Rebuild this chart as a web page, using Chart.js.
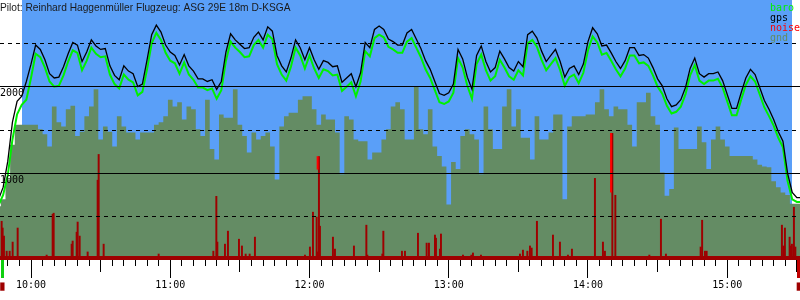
<!DOCTYPE html>
<html><head><meta charset="utf-8">
<script src="https://cdn.jsdelivr.net/npm/chart.js@4.4.1/dist/chart.umd.min.js"></script>
<style>html,body{margin:0;padding:0;background:#fff;}canvas{display:block;}</style>
</head><body>
<canvas id="c" width="800" height="300"></canvas>
<script>
// ---------- DATA ----------
const titleText = 'Pilot: Reinhard Haggenmüller Flugzeug: ASG 29E 18m D-KSGA';
const legendLabels = ['baro', 'gps', 'noise', 'gnd'];

// sample times, minutes after midnight
const times = [
586,588,590,592,594,596,598,600,602,604,
606,608,610,612,614,616,618,620,622,624,
626,628,630,632,634,636,638,640,642,644,
646,648,650,652,654,656,658,660,662,664,
666,668,670,672,674,676,678,680,682,684,
686,688,690,692,694,696,698,700,702,704,
706,708,710,712,714,716,718,720,722,724,
726,728,730,732,734,736,738,740,742,744,
746,748,750,752,754,756,758,760,762,764,
766,768,770,772,774,776,778,780,782,784,
786,788,790,792,794,796,798,800,802,804,
806,808,810,812,814,816,818,820,822,824,
826,828,830,832,834,836,838,840,842,844,
846,848,850,852,854,856,858,860,862,864,
866,868,870,872,874,876,878,880,882,884,
886,888,890,892,894,896,898,900,902,904,
906,908,910,912,914,916,918,920,922,924,
926,928,930,932];

const gps = [
700,840,1140,1590,1830,1890,2060,2260,2480,2430,
2310,2150,2100,2110,2230,2380,2510,2480,2290,2400,
2540,2470,2430,2440,2240,2130,2080,2240,2180,2150,
2000,2030,2310,2600,2710,2630,2480,2400,2360,2250,
2370,2240,2180,2090,2090,2060,2080,1970,2060,2400,
2610,2540,2490,2440,2450,2570,2630,2540,2690,2640,
2360,2240,2170,2330,2540,2450,2310,2450,2310,2200,
2300,2280,2230,2240,2050,2100,2150,2000,2160,2510,
2450,2660,2700,2660,2550,2520,2480,2480,2620,2660,
2550,2440,2300,2200,2060,1920,1900,1930,2030,2430,
2320,2110,1970,2360,2470,2290,2170,2220,2410,2320,
2220,2180,2290,2230,2600,2640,2560,2410,2290,2360,
2430,2290,2110,2210,2240,2140,2260,2520,2680,2610,
2470,2480,2390,2290,2210,2300,2450,2450,2360,2370,
2330,2220,2090,2010,1860,1770,1790,1850,1990,2210,
2330,2150,2110,2150,2150,2170,2070,1910,1750,1750,
1930,2100,2200,2140,1990,1840,1740,1620,1480,1370,
1000,780,720,720];

const baro = [
630,750,980,1390,1680,1790,1850,2100,2380,2340,
2220,2060,2000,2010,2130,2290,2420,2390,2190,2300,
2450,2380,2340,2350,2140,2030,1980,2140,2080,2050,
1900,1940,2200,2500,2620,2540,2390,2300,2270,2150,
2280,2140,2080,1990,1990,1960,1980,1860,1960,2300,
2520,2450,2400,2340,2350,2480,2540,2450,2600,2550,
2260,2140,2070,2230,2450,2360,2210,2360,2210,2100,
2200,2180,2130,2140,1950,2000,2050,1890,2060,2410,
2350,2560,2600,2570,2460,2430,2390,2390,2520,2560,
2450,2340,2200,2100,1960,1820,1800,1830,1930,2330,
2220,2010,1860,2260,2370,2190,2070,2120,2310,2220,
2120,2080,2190,2130,2500,2540,2460,2310,2190,2260,
2330,2190,2010,2110,2140,2040,2160,2420,2580,2510,
2370,2390,2300,2200,2120,2210,2360,2360,2270,2280,
2240,2130,2000,1920,1780,1690,1710,1770,1910,2130,
2250,2070,2030,2070,2070,2090,1990,1830,1670,1670,
1850,2020,2120,2060,1910,1760,1660,1550,1410,1300,
910,700,670,670];

const gnd = [
620,700,930,1330,1560,1560,1560,1560,1560,1510,
1450,1310,1770,1590,1540,1740,1780,1430,1480,1660,
1770,1970,1390,1540,1480,1310,1660,1540,1470,1470,
1390,1470,1470,1470,1560,1590,1660,1850,1770,1820,
1620,1770,1740,1510,1430,1850,1280,1160,1680,1640,
1640,1970,1560,1430,1240,1470,1390,1430,1470,1310,
930,1540,1660,1700,1700,1850,1890,1890,1740,1560,
1680,1620,1620,1470,990,1660,1620,1390,1370,1370,
1160,1240,1240,1390,1510,1770,1820,1740,1390,1390,
2000,1510,1450,1740,1310,1200,1080,640,1130,1050,
1430,1510,1450,1390,990,1770,1510,1280,1280,1770,
1970,1540,1740,1410,1410,1160,1660,1390,1390,1470,
1680,1680,700,1540,1660,1660,1660,1680,1680,1820,
1970,1740,1660,1770,1740,1740,1560,1310,1820,1820,
1930,1660,1560,1010,740,820,1530,1280,1280,1280,
1280,1540,1360,1050,1390,1540,1390,1310,1200,1200,
1200,1200,1200,1160,1100,1080,1070,910,840,780,
750,650,650,650];

// noise spikes (time in minutes, relative level 0..100)
const noiseTimes = [
587.07,587.5,588.06,589.23,590.52,591.81,593.97,606.46,609.05,609.48,
617.24,617.67,619.39,619.82,620.68,624.13,628.44,628.87,631.02,654.72,
678.29,679.58,680.01,683.29,684.58,689.32,690.61,692.21,693.93,696.21,
717.76,719.91,721.21,722.80,723.36,723.79,724.22,729.82,730.69,738.87,
744.22,744.65,751.11,751.54,759.56,760.85,766.45,770.20,771.19,773.78,
774.21,775.93,776.36,785.84,789.46,790.15,793.60,810.40,811.69,813.59,
814.71,815.44,817.72,824.62,827.63,831.08,832.80,842.71,846.16,847.02,
850.21,851.50,866.15,871.15,873.30,888.26,888.90,890.11,890.84,923.28,
924.01,924.57,926.60,927.03,927.59,928.45,929.06];
const noiseValues = [
14.9,12.3,9.2,3.4,3.4,6.9,12.3,1.9,17.6,18.0,
6.1,7.3,10.7,14.6,9.2,3.1,30.7,40.6,6.1,2.3,
3.4,24.5,6.9,6.1,11.1,8.0,5.4,2.3,2.3,8.8,
1.9,5.0,18.4,16.5,3.1,39.8,13.0,8.8,4.2,5.4,
13.4,1.9,2.3,11.1,3.4,3.4,10.3,6.5,6.5,9.6,
8.4,4.2,10.0,1.9,1.9,2.7,1.9,2.3,3.8,3.4,
5.4,4.6,14.9,9.6,6.9,1.9,4.2,31.4,6.9,3.4,
48.7,24.9,1.9,15.7,2.3,5.0,15.3,3.4,3.4,13.4,
5.4,12.3,8.8,5.4,6.1,20.3,5.0];
// parts of two spikes that rise above the terrain (shown in bright red)
const noiseHiTimes = [723.79, 850.21];
const noiseHiRanges = [[34.9, 39.8], [26.1, 48.7]];
const noiseFloorTimes = [586, 932];
const noiseFloorValues = [1.5, 1.5];

// blue sky band (task window)
const skyTimes = [596.1, 927.9];
const skyValues = [3000, 3000];

// axis ticks
const altTicksSolid = [1000, 2000];
const altTicksDashed = [500, 1500, 2500];
const hourTicks = [600, 660, 720, 780, 840, 900];
const takeoffTime = 587.63;
const landingTime = 930.83;

// ---------- STYLES ----------
const C = {
  sky: '#5a9ff8', gnd: '#648c64', baro: '#00f000', gps: '#000000',
  noise: '#9e0000', noiseHi: '#ff0000', legendNoise: '#ff0000',
  takeoff: '#10d010', landing: '#c00000'
};
const legendColors = [C.baro, C.gps, C.legendNoise, C.gnd];
const monoFont = '"DejaVu Sans Mono", monospace';

const minorTicks = []; for (let t = 590; t <= 930; t += 5) minorTicks.push(t);
const halfTicks = []; for (let t = 600; t <= 930; t += 30) halfTicks.push(t);
const isMarker = v => v === takeoffTime || v === landingTime;
const withMarkers = arr => [takeoffTime, ...arr, landingTime].map(v => ({value: v}));
const fmt = v => Math.floor(v / 60) + ':' + String(Math.round(v % 60)).padStart(2, '0');
const xy = (ts, vs) => ts.map((t, i) => ({x: t, y: vs[i]}));
const noPad = s => { s.paddingTop = 0; s.paddingBottom = 0; s.paddingLeft = 0; s.paddingRight = 0; };

const xMin = 586.64, xMax = 931.35;
function xAxis(ticksArr, weight, showLabels) {
  return {
    type: 'linear', position: 'bottom', min: xMin, max: xMax, offset: false, weight: weight,
    afterBuildTicks: a => { a.ticks = withMarkers(ticksArr); },
    afterFit: noPad,
    border: {display: false},
    grid: {
      display: true, drawOnChartArea: false, drawTicks: true, tickLength: 6, offset: false,
      tickColor: ctx => ctx.tick && ctx.tick.value === takeoffTime ? C.takeoff : (ctx.tick && ctx.tick.value === landingTime ? C.landing : '#000'),
      tickWidth: ctx => ctx.tick && isMarker(ctx.tick.value) ? 3 : 1
    },
    ticks: showLabels ? {
      display: true, autoSkip: false, maxRotation: 0, minRotation: 0, padding: 1,
      color: ctx => ctx.tick && isMarker(ctx.tick.value) ? C.noise : '#000',
      font: ctx => (ctx.tick && isMarker(ctx.tick.value)) ? {family: monoFont, size: 7, lineHeight: 2.4} : {family: monoFont, size: 10, lineHeight: 1.2},
      callback: v => isMarker(v) ? '\u2588' : (hourTicks.includes(v) ? fmt(v) : '')
    } : {display: false}
  };
}

const overlayText = {
  id: 'overlayText',
  afterDraw(chart) {
    const ctx = chart.ctx;
    ctx.save();
    ctx.textAlign = 'left';
    ctx.textBaseline = 'alphabetic';
    ctx.font = '10.2px "Liberation Sans", Arial, sans-serif';
    ctx.fillStyle = '#1a1a1a';
    ctx.fillText(titleText, 0, 11);
    ctx.font = '10px ' + monoFont;
    legendLabels.forEach((lab, i) => {
      ctx.fillStyle = legendColors[i];
      ctx.fillText(lab, 770, 10.5 + 10 * i);
    });
    ctx.restore();
  }
};

new Chart(document.getElementById('c'), {
  type: 'line',
  data: {
    datasets: [
      {label: 'sky', data: xy(skyTimes, skyValues), yAxisID: 'y', xAxisID: 'x', order: 10,
       borderWidth: 0, pointRadius: 0, fill: 'origin', backgroundColor: C.sky, borderColor: 'rgba(0,0,0,0)'},
      {label: 'gnd', data: xy(times, gnd), yAxisID: 'y', xAxisID: 'x', order: 8, stepped: 'middle',
       borderWidth: 0, pointRadius: 0, fill: 'origin', backgroundColor: C.gnd, borderColor: 'rgba(0,0,0,0)'},
      {label: 'noise floor', data: xy(noiseFloorTimes, noiseFloorValues), yAxisID: 'yn', xAxisID: 'x', order: 6,
       borderWidth: 0, pointRadius: 0, fill: 'origin', backgroundColor: C.noise, borderColor: 'rgba(0,0,0,0)'},
      {type: 'bar', label: 'noise', data: xy(noiseTimes, noiseValues), yAxisID: 'yn', xAxisID: 'x', order: 5,
       backgroundColor: C.noise, borderWidth: 0, barThickness: 1.3},
      {type: 'bar', label: 'noise high', data: xy(noiseHiTimes, noiseHiRanges), yAxisID: 'yn', xAxisID: 'x', order: 4,
       backgroundColor: C.noiseHi, borderWidth: 0, barThickness: 1.3},
      {label: 'baro', data: xy(times, baro), yAxisID: 'y', xAxisID: 'x', order: 2,
       borderColor: C.baro, borderWidth: 2, pointRadius: 0, fill: false, tension: 0},
      {label: 'gps', data: xy(times, gps), yAxisID: 'y', xAxisID: 'x', order: 1,
       borderColor: C.gps, borderWidth: 1.3, pointRadius: 0, fill: false, tension: 0}
    ]
  },
  options: {
    responsive: false, devicePixelRatio: 1, animation: false,
    layout: {padding: {left: 0, right: 0, top: 0, bottom: 3.2}, autoPadding: false},
    plugins: {legend: {display: false}, tooltip: {enabled: false}, title: {display: false}},
    scales: {
      x: xAxis(minorTicks, 0, false),
      x2: xAxis(halfTicks, 1, false),
      x3: xAxis(hourTicks, 2, true),
      y: {
        type: 'linear', position: 'left', min: 0, max: 3000,
        afterBuildTicks: a => { a.ticks = altTicksSolid.map(v => ({value: v})); },
        afterFit: noPad,
        grid: {color: '#000', lineWidth: 1, drawTicks: false, z: 1},
        border: {display: false, z: 1},
        ticks: {mirror: true, padding: 0, labelOffset: 7, color: '#000', z: 2,
                font: {family: monoFont, size: 10}, callback: v => String(v)}
      },
      yd: {
        type: 'linear', position: 'left', min: 0, max: 3000,
        afterBuildTicks: a => { a.ticks = altTicksDashed.map(v => ({value: v})); },
        afterFit: noPad,
        grid: {color: '#000', lineWidth: 1, drawTicks: false, z: 1},
        border: {display: false, dash: [4, 4], z: 1},
        ticks: {display: false}
      },
      yn: {type: 'linear', min: 0, max: 100, display: false}
    }
  },
  plugins: [overlayText]
});
</script>
</body></html>
